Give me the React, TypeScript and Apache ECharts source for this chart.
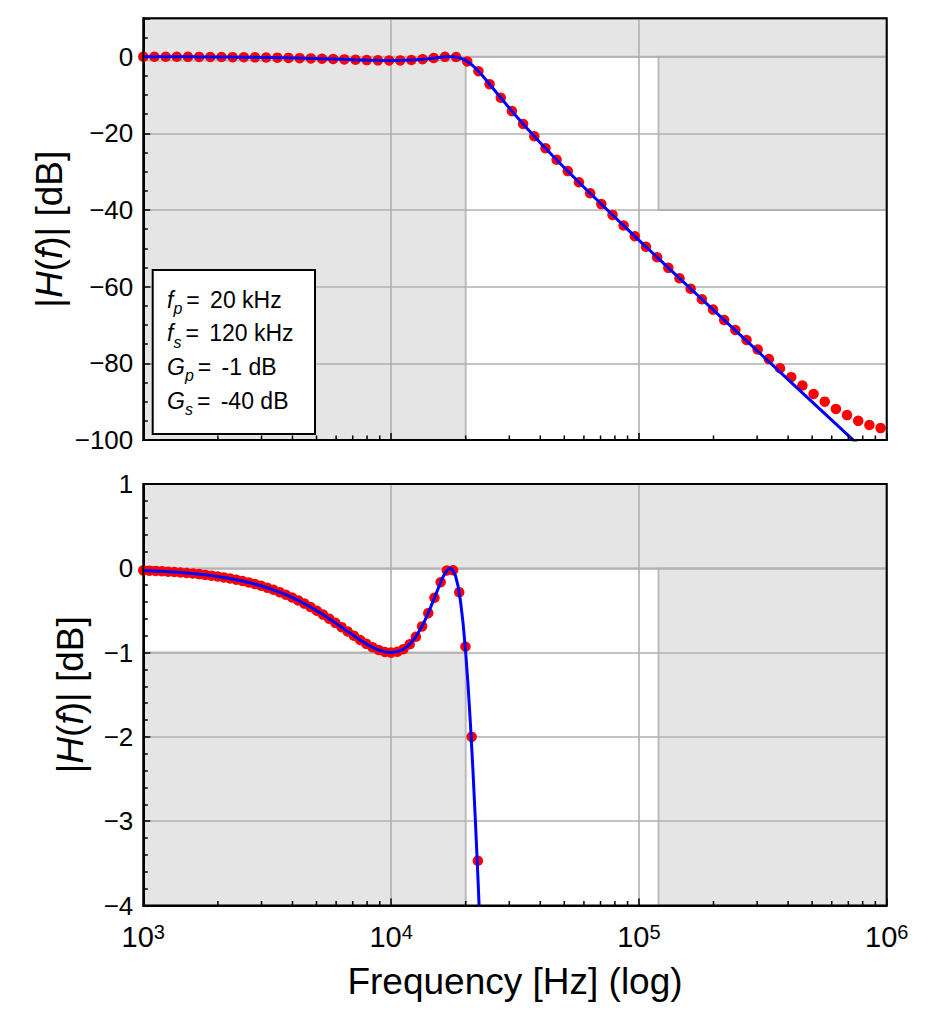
import React, { useEffect, useRef } from 'react';
import * as echarts from 'echarts';

const FONT = "'Liberation Sans', Arial, Helvetica, sans-serif";

// Filter specification
const F_MIN = 1000;
const F_MAX = 1000000;
const FP = 20000;
const FS = 120000;
const GP = -1;
const GS = -40;
const TOP_Y_MIN = -100;
const TOP_Y_MAX = 10;
const BOT_Y_MIN = -4;
const BOT_Y_MAX = 1;

// Red markers, top panel
const topDotF = [
  1000, 1109, 1231, 1365, 1514, 1680, 1864, 2067, 2293, 2544,
  2822, 3131, 3475, 3855, 4276, 4744, 5263, 5838, 6476, 7186,
  7971, 8843, 9813, 10884, 12075, 13397, 14862, 16488, 18290, 20292,
  22512, 24974, 27707, 30731, 34101, 37832, 41972, 46559, 51642, 57294,
  63563, 70518, 78241, 86780, 96272, 106808, 118496, 131466, 145814, 161770,
  179473, 199114, 220902, 245018, 271833, 301579, 334581, 371193, 411715, 456775,
  506760, 562216, 623735, 691831, 767544, 851542, 944730,
];
const topDotDb = [
  -0.03, -0.03, -0.04, -0.05, -0.06, -0.07, -0.09, -0.1, -0.13, -0.15,
  -0.19, -0.23, -0.27, -0.33, -0.39, -0.46, -0.54, -0.63, -0.72, -0.82,
  -0.9, -0.97, -1.0, -0.98, -0.88, -0.68, -0.37, -0.06, -0.11, -1.25,
  -3.81, -7.19, -10.74, -14.21, -17.56, -20.78, -23.89, -26.91, -29.86, -32.77,
  -35.64, -38.47, -41.28, -44.06, -46.84, -49.6, -52.35, -55.09, -57.82, -60.55,
  -63.27, -65.99, -68.71, -71.3, -73.9, -76.4, -78.9, -81.3, -83.6, -85.8,
  -88.0, -90.0, -91.9, -93.5, -95.0, -96.1, -96.9,
];

// Red markers, bottom panel
const bottomDotF = [
  1000, 1059, 1122, 1189, 1259, 1334, 1413, 1496, 1585, 1679,
  1778, 1884, 1995, 2113, 2239, 2371, 2512, 2661, 2818, 2985,
  3162, 3350, 3548, 3758, 3981, 4217, 4467, 4732, 5012, 5309,
  5623, 5957, 6310, 6683, 7079, 7499, 7943, 8414, 8913, 9441,
  10000, 10593, 11220, 11885, 12589, 13335, 14125, 14962, 15849, 16788,
  17783, 18836, 19953, 21135, 22387,
];
const bottomDotDb = [
  -0.025, -0.028, -0.031, -0.035, -0.04, -0.044, -0.05, -0.055, -0.062, -0.069,
  -0.078, -0.087, -0.097, -0.108, -0.121, -0.135, -0.15, -0.167, -0.186, -0.207,
  -0.23, -0.255, -0.283, -0.313, -0.346, -0.381, -0.419, -0.46, -0.503, -0.549,
  -0.597, -0.647, -0.698, -0.75, -0.801, -0.85, -0.896, -0.937, -0.97, -0.992,
  -1.0, -0.99, -0.959, -0.901, -0.812, -0.689, -0.532, -0.35, -0.165, -0.026,
  -0.023, -0.285, -0.93, -2.0, -3.47,
];

// Blue curve (shared by both panels)
const lineF = [
  1000, 1059, 1122, 1189, 1259, 1334, 1413, 1496, 1585, 1679,
  1778, 1884, 1995, 2113, 2239, 2371, 2512, 2661, 2818, 2985,
  3162, 3350, 3548, 3758, 3981, 4217, 4467, 4732, 5012, 5309,
  5623, 5957, 6310, 6683, 7079, 7499, 7943, 8414, 8913, 9441,
  10000, 10593, 11220, 11885, 12589, 13335, 14125, 14962, 15849,
  16218, 16596, 16982, 17378, 17783, 18197, 18621, 19055, 19498, 19953,
  20417, 20893, 21380, 21878, 22387, 22909, 23442, 23988, 24547, 25119,
  28184, 31623, 35481, 39811, 44668, 50119, 56234, 63096, 70795, 79433,
  89125, 100000, 112202, 125893, 141254, 158489, 177828, 199526, 223872, 251189,
  281838, 316228, 354813, 398107, 446684, 501187, 562341, 630957, 707946, 794328,
  891251, 1000000,
];
const lineDb = [
  -0.0251, -0.0281, -0.0315, -0.0353, -0.0395, -0.0442, -0.0495, -0.0554, -0.0621, -0.0694,
  -0.0776, -0.0868, -0.097, -0.1083, -0.1209, -0.1349, -0.1504, -0.1675, -0.1864, -0.2073,
  -0.2302, -0.2554, -0.2829, -0.313, -0.3456, -0.381, -0.419, -0.4598, -0.5033, -0.5492,
  -0.5973, -0.6472, -0.6984, -0.75, -0.8011, -0.8504, -0.8963, -0.9369, -0.9696, -0.9918,
  -1.0, -0.9904, -0.9588, -0.9006, -0.8115, -0.6886, -0.5324, -0.3503, -0.1651,
  -0.0999, -0.0465, -0.0109, -0.0003, -0.0234, -0.0893, -0.2079, -0.3884, -0.6378, -0.9625,
  -1.3624, -1.8373, -2.3813, -2.9863, -3.6418, -4.3412, -5.0716, -5.8268, -6.5996, -7.383,
  -11.32, -15.15, -18.81, -22.31, -25.71, -29.03, -32.25, -35.43, -38.58, -41.69,
  -44.78, -47.85, -50.9, -53.95, -56.98, -60.01, -63.03, -66.05, -69.06, -72.07,
  -75.08, -78.09, -81.09, -84.1, -87.1, -90.1, -93.1, -96.1, -99.11, -102.11,
  -105.11, -108.11,
];

// Minor ticks of the log frequency axis
const minorTickF = [
  2000, 3000, 4000, 5000, 6000, 7000, 8000, 9000,
  20000, 30000, 40000, 50000, 60000, 70000, 80000, 90000,
  200000, 300000, 400000, 500000, 600000, 700000, 800000, 900000,
];

// Annotation box lines
const specSymbols = ['f', 'f', 'G', 'G'];
const specSubs = ['p', 's', 'p', 's'];
const specValues = ['20 kHz', '120 kHz', '-1 dB', '-40 dB'];
const specLineY = [299.5, 333, 366.5, 400.5];

function regionRects(yMin: number, yMax: number) {
  return [
    [F_MIN, F_MAX, 0, yMax],
    [F_MIN, FP, yMin, GP],
    [FS, F_MAX, Math.max(yMin, GS), 0],
  ];
}

const renderRegion = (_p: any, api: any) => {
  const tl = api.coord([api.value(0), api.value(3)]);
  const br = api.coord([api.value(1), api.value(2)]);
  return {
    type: 'rect',
    shape: { x: tl[0], y: tl[1], width: br[0] - tl[0], height: br[1] - tl[1] },
    style: { fill: '#e5e5e5', stroke: '#bcbcbc', lineWidth: 2 },
  };
};

const renderMinorTick = (_p: any, api: any) => {
  const p = api.coord([api.value(0), api.value(1)]);
  return {
    type: 'line',
    shape: { x1: p[0], y1: p[1], x2: p[0], y2: p[1] - 4.5 },
    style: { stroke: '#000', lineWidth: 1.5 },
  };
};

const minusFmt = (v: number) => (v < 0 ? '\u2212' + Math.abs(v) : String(v));

function xAxisCfg(gridIndex: number, showLabels: boolean): any {
  return {
    type: 'log',
    logBase: 10,
    gridIndex,
    min: F_MIN,
    max: F_MAX,
    z: 3,
    axisLine: { show: true, onZero: false, lineStyle: { color: '#000', width: 2 } },
    axisTick: { show: true, inside: true, length: 7, lineStyle: { color: '#000', width: 1.5 } },
    minorTick: { show: false },
    splitLine: { show: true, lineStyle: { color: '#b0b0b0', width: 1.6 } },
    axisLabel: showLabels
      ? {
          show: true,
          margin: 16,
          showMinLabel: true,
          showMaxLabel: true,
          formatter: (v: number) => {
            const e = v >= 100 ? Math.round(Math.log10(v)) : Math.round(v);
            return '{b|10}{s|' + e + '}';
          },
          rich: {
            b: { fontSize: 29, lineHeight: 30, fontFamily: FONT, color: '#000' },
            s: { fontSize: 20, lineHeight: 6, verticalAlign: 'top', fontFamily: FONT, color: '#000' },
          },
        }
      : { show: false },
    name: showLabels ? 'Frequency [Hz] (log)' : '',
    nameLocation: 'middle',
    nameGap: 57,
    nameMoveOverlap: false,
    nameTextStyle: { fontSize: 37, fontFamily: FONT, color: '#000' },
  };
}

function yAxisCfg(gridIndex: number, min: number, max: number, interval: number, minorSplit: number, gap: number): any {
  return {
    type: 'value',
    gridIndex,
    min,
    max,
    interval,
    z: 3,
    axisLine: { show: true, onZero: false, lineStyle: { color: '#000', width: 2 } },
    axisTick: { show: true, inside: true, length: 7, lineStyle: { color: '#000', width: 1.5 } },
    minorTick: { show: true, splitNumber: minorSplit, length: 4.5, lineStyle: { color: '#000', width: 1.5 } },
    splitLine: { show: true, lineStyle: { color: '#b0b0b0', width: 1.6 } },
    minorSplitLine: { show: false },
    axisLabel: {
      show: true,
      margin: 10,
      fontSize: 26,
      fontFamily: FONT,
      color: '#000',
      showMaxLabel: max % interval === 0,
      showMinLabel: true,
      formatter: minusFmt,
    },
    name: '{n||}{i|H}{n|(}{i|f}{n|)| [dB]}',
    nameLocation: 'middle',
    nameRotate: 90,
    nameGap: gap,
    nameMoveOverlap: false,
    nameTextStyle: {
      fontSize: 37,
      fontFamily: FONT,
      color: '#000',
      rich: {
        n: { fontSize: 37, fontFamily: FONT, color: '#000' },
        i: { fontSize: 37, fontFamily: FONT, fontStyle: 'italic', color: '#000' },
      },
    },
  };
}

export default function App() {
  const ref = useRef<HTMLDivElement>(null);

  useEffect(() => {
    if (!ref.current) return;
    const chart = echarts.init(ref.current, null, { renderer: 'svg' });

    const topDots = topDotF.map((f, i) => [f, topDotDb[i]]);
    const bottomDots = bottomDotF.map((f, i) => [f, bottomDotDb[i]]);
    const curve = lineF.map((f, i) => [f, lineDb[i]]);

    const gridBase = {
      left: 143.3,
      width: 743.4,
      show: true,
      borderColor: '#000',
      borderWidth: 2,
      backgroundColor: 'transparent',
      z: 6,
      containLabel: false,
      outerBoundsMode: 'none',
    };

    const specTexts = specSymbols.map((sym, i) => ({
      type: 'text',
      x: 167,
      y: specLineY[i],
      z: 101,
      style: {
        text: '{i|' + sym + '}{s|' + specSubs[i] + '}{e|=}{n| ' + specValues[i] + '}',
        fill: '#000',
        align: 'left',
        verticalAlign: 'middle',
        rich: {
          i: { fontSize: 23, lineHeight: 34, fontStyle: 'italic', fontFamily: FONT, fill: '#000' },
          s: {
            fontSize: 16,
            lineHeight: 21,
            verticalAlign: 'bottom',
            fontStyle: 'italic',
            fontFamily: FONT,
            fill: '#000',
            padding: [0, 4, 0, 0],
          },
          e: { fontSize: 23, lineHeight: 34, fontFamily: FONT, fill: '#000', padding: [0, 4, 0, 0] },
          n: { fontSize: 23, lineHeight: 34, fontFamily: FONT, fill: '#000' },
        },
      },
    }));

    const option: any = {
      animation: false,
      backgroundColor: '#ffffff',
      textStyle: { fontFamily: FONT },
      grid: [
        { ...gridBase, top: 18.3, height: 421.7 },
        { ...gridBase, top: 484, height: 421.5 },
      ],
      xAxis: [xAxisCfg(0, false), xAxisCfg(1, true)],
      yAxis: [
        yAxisCfg(0, TOP_Y_MIN, TOP_Y_MAX, 20, 4, 75),
        yAxisCfg(1, BOT_Y_MIN, BOT_Y_MAX, 1, 5, 54),
      ],
      series: [
        {
          type: 'custom',
          name: 'spec-top',
          xAxisIndex: 0,
          yAxisIndex: 0,
          z: 1,
          silent: true,
          encode: { x: [0, 1], y: [2, 3] },
          data: regionRects(TOP_Y_MIN, TOP_Y_MAX),
          renderItem: renderRegion,
        },
        {
          type: 'custom',
          name: 'spec-bottom',
          xAxisIndex: 1,
          yAxisIndex: 1,
          z: 1,
          silent: true,
          encode: { x: [0, 1], y: [2, 3] },
          data: regionRects(BOT_Y_MIN, BOT_Y_MAX),
          renderItem: renderRegion,
        },
        {
          type: 'scatter',
          name: 'samples-top',
          xAxisIndex: 0,
          yAxisIndex: 0,
          z: 4,
          symbol: 'circle',
          symbolSize: 10.5,
          clip: true,
          itemStyle: { color: '#ff0000', opacity: 1 },
          data: topDots,
        },
        {
          type: 'line',
          name: 'response-top',
          xAxisIndex: 0,
          yAxisIndex: 0,
          z: 5,
          symbol: 'none',
          showSymbol: false,
          clip: true,
          lineStyle: { color: '#0000ff', width: 3 },
          data: curve,
        },
        {
          type: 'scatter',
          name: 'samples-bottom',
          xAxisIndex: 1,
          yAxisIndex: 1,
          z: 4,
          symbol: 'circle',
          symbolSize: 10.5,
          clip: true,
          itemStyle: { color: '#ff0000', opacity: 1 },
          data: bottomDots,
        },
        {
          type: 'line',
          name: 'response-bottom',
          xAxisIndex: 1,
          yAxisIndex: 1,
          z: 5,
          symbol: 'none',
          showSymbol: false,
          clip: true,
          lineStyle: { color: '#0000ff', width: 3 },
          data: curve,
        },
        {
          type: 'custom',
          name: 'minor-top',
          xAxisIndex: 0,
          yAxisIndex: 0,
          z: 7,
          silent: true,
          data: minorTickF.map((f) => [f, TOP_Y_MIN]),
          renderItem: renderMinorTick,
        },
        {
          type: 'custom',
          name: 'minor-bottom',
          xAxisIndex: 1,
          yAxisIndex: 1,
          z: 7,
          silent: true,
          data: minorTickF.map((f) => [f, BOT_Y_MIN]),
          renderItem: renderMinorTick,
        },
      ],
      graphic: [
        {
          type: 'rect',
          z: 100,
          shape: { x: 152.7, y: 270, width: 162.3, height: 164 },
          style: { fill: '#ffffff', stroke: '#000000', lineWidth: 2 },
        },
        ...specTexts,
      ],
    };

    chart.setOption(option);
    return () => chart.dispose();
  }, []);

  return (
    <div
      ref={ref}
      style={{ position: 'absolute', left: 0, top: 0, width: 929, height: 1019 }}
    />
  );
}
